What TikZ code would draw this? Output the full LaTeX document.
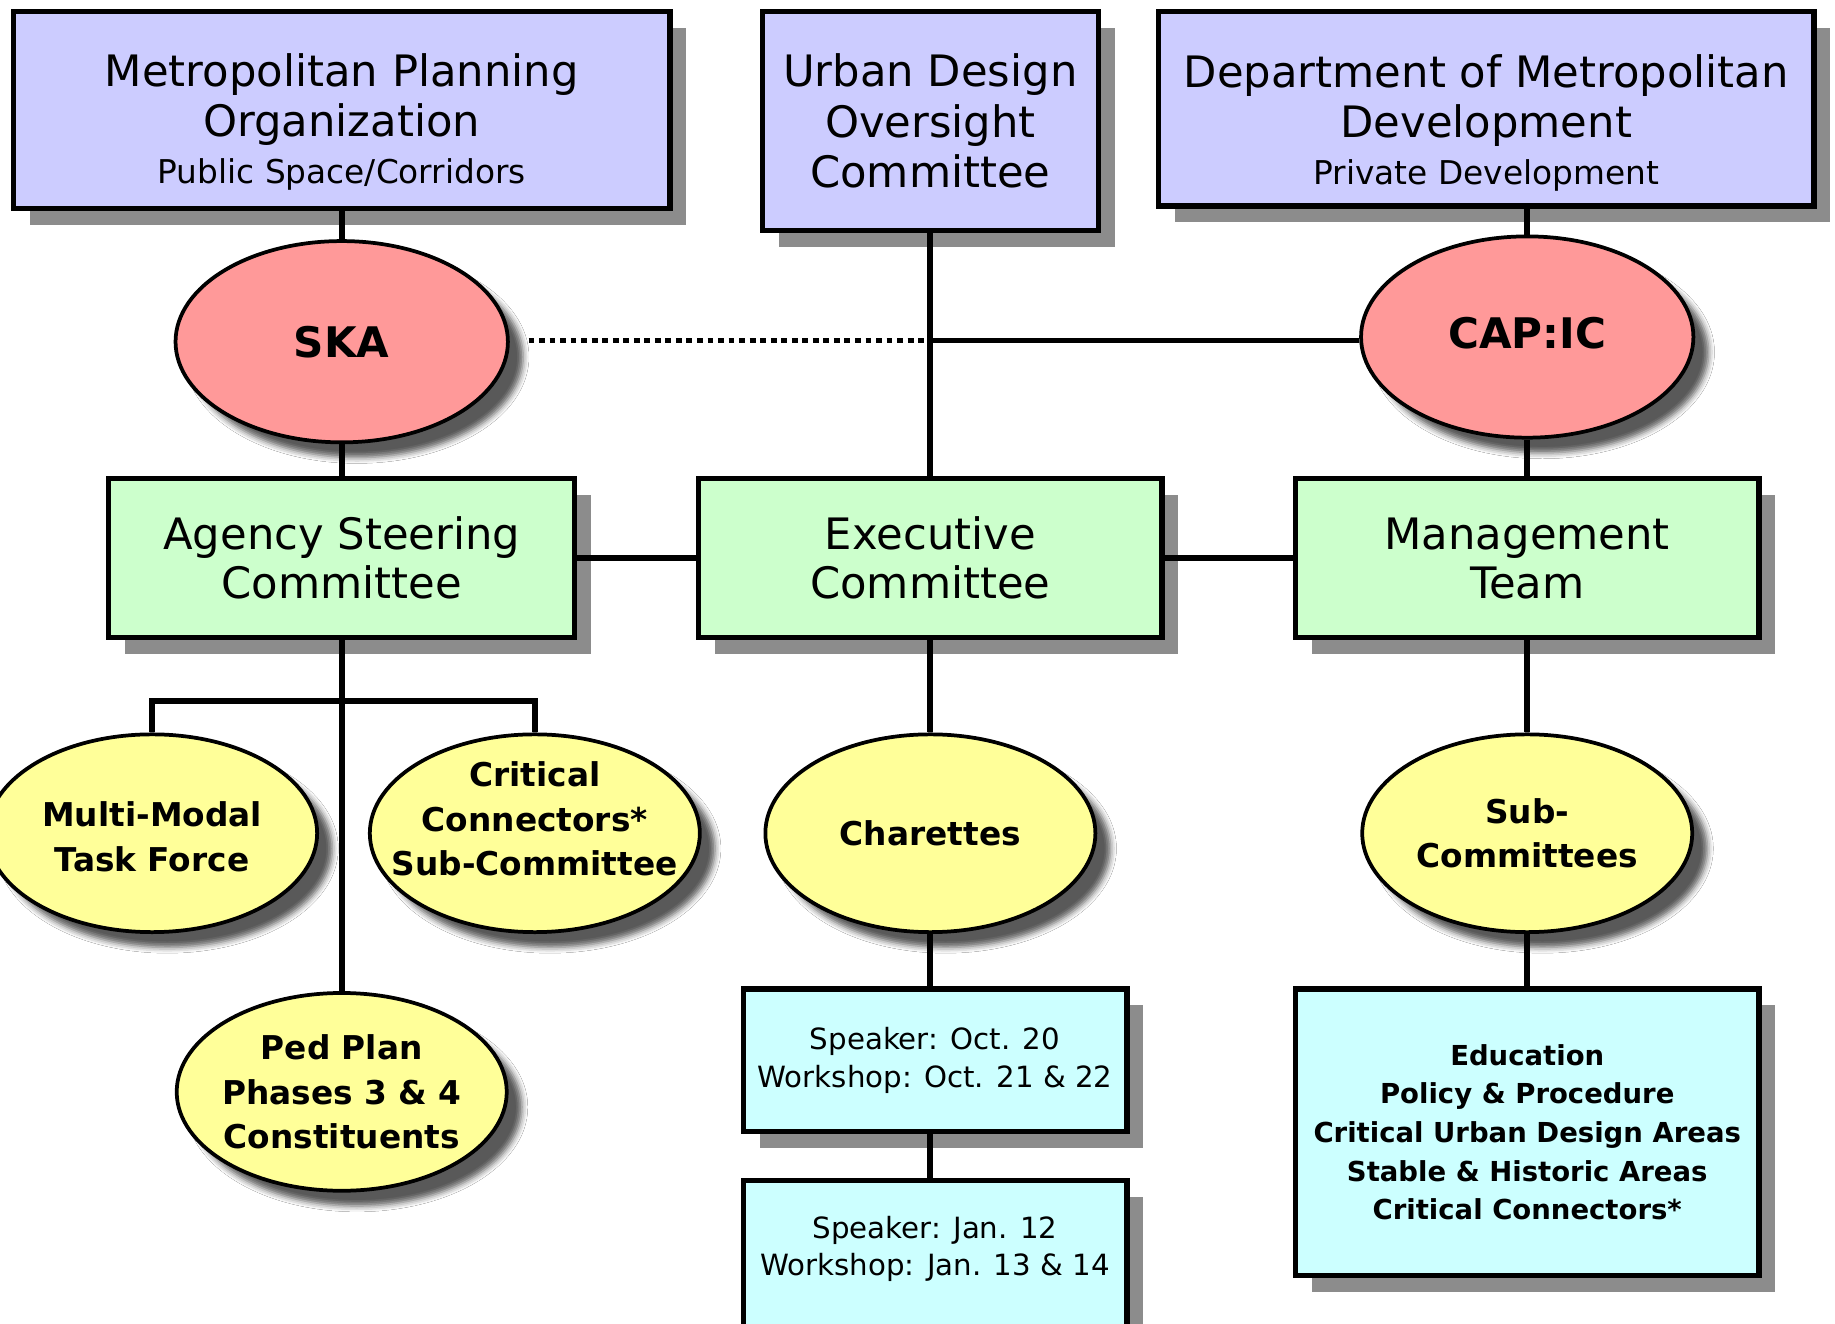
\documentclass[tikz,border=0pt]{standalone}
\usepackage{fontspec}
\setmainfont{DejaVu Sans}
\usetikzlibrary{shapes.geometric,shadows,shadows.blur}
\definecolor{lav}{HTML}{CCCCFF}
\definecolor{pinkred}{HTML}{FF9999}
\definecolor{mint}{HTML}{CCFFCC}
\definecolor{lemon}{HTML}{FFFF99}
\definecolor{aqua}{HTML}{CCFFFF}
\definecolor{shade}{HTML}{8C8C8C}
\tikzset{
  boxbase/.style={rectangle, draw=black, line width=4.5pt, inner sep=0pt, align=center,
    drop shadow={shadow xshift=14pt, shadow yshift=-14pt, fill=shade, opacity=1}},
  lavbox/.style={boxbase, fill=lav, font=\fontsize{37}{43}\selectfont},
  greenbox/.style={boxbase, fill=mint, font=\fontsize{37}{42}\selectfont},
  cyanbox/.style={boxbase, fill=aqua},
  ovalbase/.style={ellipse, draw=black, line width=3.2pt, inner sep=0pt,
    blur shadow={shadow xshift=13pt, shadow yshift=-13pt, shadow blur radius=5pt, shadow opacity=65}},
  redoval/.style={ovalbase, fill=pinkred, minimum width=284pt, minimum height=172pt},
  yeloval/.style={ovalbase, fill=lemon, minimum width=282pt, minimum height=169pt},
  redtext/.style={font=\bfseries\fontsize{36}{42}\selectfont, align=center, inner sep=0pt},
  yeltext/.style={font=\bfseries\fontsize{28}{38}\selectfont, align=center, inner sep=0pt},
  titletext/.style={font=\fontsize{37}{43}\selectfont, align=center, inner sep=0pt},
  conn/.style={line width=5pt},
  dotline/.style={line width=5pt, dash pattern=on 5pt off 4pt}
}
\newcommand\subsize{\fontsize{28}{40}\selectfont}
\begin{document}
\begin{tikzpicture}[x=1pt,y=-1pt]
\useasboundingbox (0,0) rectangle (1568,1131);
\fill[white] (0,0) rectangle (1568,1131);

% top row
\node[lavbox, minimum width=561pt, minimum height=168pt] (mpo) at (292,94) {};
\node[titletext] (mpot) at ([yshift=-10pt]mpo.center) {Metropolitan Planning\\Organization\\[-3pt]{\subsize Public Space/Corridors}};
\node[lavbox, minimum width=287pt, minimum height=187pt] (udoc) at (795,103.5) {Urban Design\\Oversight\\Committee};
\node[lavbox, minimum width=560pt, minimum height=166pt] (dmd) at (1270,93) {};
\node[titletext] (dmdt) at ([yshift=-12pt]dmd.center) {Department of Metropolitan\\Development\\[-3pt]{\subsize Private Development}};

% red ovals
\node[redoval] (ska) at (292,292) {};
\node[redtext] (skat) at (ska) {SKA};
\node[redoval] (cap) at (1305,288) {};
\node[redtext] (capt) at ([yshift=3pt]cap.center) {CAP:IC};

% green row
\node[greenbox, minimum width=398pt, minimum height=136pt] (asc) at (292,477) {Agency Steering\\Committee};
\node[greenbox, minimum width=396pt, minimum height=136pt] (ec) at (795,477) {Executive\\Committee};
\node[greenbox, minimum width=396pt, minimum height=136pt] (mt) at (1305,477) {Management\\Team};

% yellow ovals
\node[yeloval] (mm) at (130,712) {};
\node[yeltext] (mmt) at ([yshift=-3pt]mm.center) {Multi-Modal\\Task Force};
\node[yeloval] (cc) at (457,712) {};
\node[yeltext] (cct) at ([yshift=12pt]cc.center) {Critical\\Connectors*\\Sub-Committee};
\node[yeloval] (ped) at (292,933) {};
\node[yeltext] (pedt) at (ped) {Ped Plan\\Phases 3 \& 4\\Constituents};
\node[yeloval] (char) at (795,712) {};
\node[yeltext] (chart) at (char) {Charettes};
\node[yeloval] (subc) at (1305,712) {};
\node[yeltext] (subct) at (subc) {Sub-\\Committees};

% cyan boxes
\node[cyanbox, minimum width=328pt, minimum height=122pt, font=\fontsize{25}{32}\selectfont] (oct) at (799,906) {Speaker: Oct. 20\\Workshop: Oct. 21 \& 22};
\node[cyanbox, minimum width=328pt, minimum height=136pt] (jan) at (799,1077) {};
\node[font=\fontsize{25}{32}\selectfont, align=center, inner sep=0pt] (jant) at (799,1067) {Speaker: Jan. 12\\Workshop: Jan. 13 \& 14};
\node[cyanbox, minimum width=396pt, minimum height=245pt, font=\bfseries\fontsize{23.5}{33}\selectfont] (edu) at (1305,967.5) {Education\\Policy \& Procedure\\Critical Urban Design Areas\\Stable \& Historic Areas\\Critical Connectors*};

% connectors
\coordinate (j) at (795,291);
\draw[conn] (mpo.south) -- (ska.north);
\draw[conn] (ska.south) -- (asc.north);
\draw[conn] (udoc.south) -- (ec.north);
\draw[conn] (j) -- (j -| cap.west);
\draw[dotline] ([xshift=16pt]ska.east |- j) -- (j);
\draw[conn] (cap.north |- dmd.south) -- (cap.north);
\draw[conn] (cap.south) -- (mt.north);
\draw[conn] (asc.east) -- (ec.west);
\draw[conn] (ec.east) -- (mt.west);
\draw[conn] (asc.south) -- (ped.north);
\draw[conn] (mm.north) -- ++(0,-27) -| (cc.north);
\draw[conn] (ec.south) -- (char.north);
\draw[conn] (char.south) -- (oct.north -| char.south);
\draw[conn] (oct.south -| char.south) -- (jan.north -| char.south);
\draw[conn] (mt.south) -- (subc.north);
\draw[conn] (subc.south) -- (edu.north);
\end{tikzpicture}
\end{document}
